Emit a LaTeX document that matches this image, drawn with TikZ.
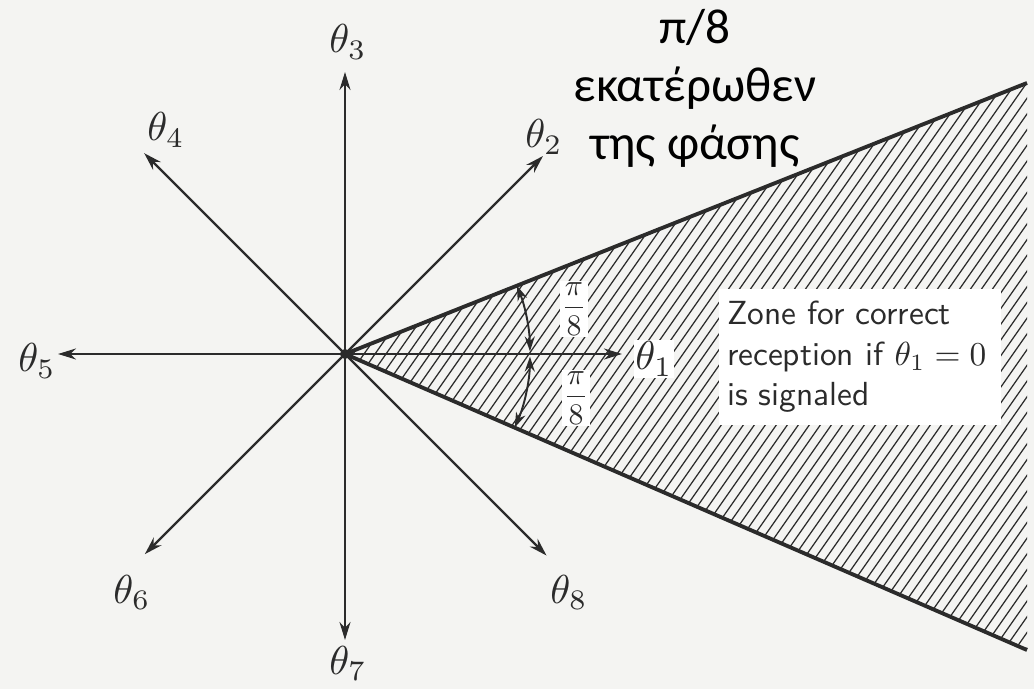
\documentclass[tikz,border=0pt]{standalone}
\usepackage{fontspec}
\usetikzlibrary{arrows.meta}
\newfontfamily\grfont{Carlito}
\definecolor{paper}{HTML}{F4F4F2}
\definecolor{ink}{HTML}{2B2B2B}
\tikzset{
    vec/.style={-{Stealth[length=3.6mm, width=2.2mm]}, line width=1.3pt, ink},
    wedgeline/.style={line width=2.2pt, ink},
    hatch/.style={line width=0.7pt, ink},
    dim/.style={{Stealth[length=3mm, width=2mm]}-{Stealth[length=3mm, width=2mm]}, line width=1.1pt, ink},
    lbl/.style={font=\normalsize, scale=2.3, transform shape, inner sep=0.4pt, text=ink},
    pifrac/.style={font=\normalsize, scale=1.7, transform shape, fill=white, inner sep=0.3pt, text=ink},
    zone/.style={fill=white, font=\fontsize{10}{12.1}\selectfont\sffamily, scale=1.9, transform shape,
                 align=left, text=ink, text width=2.8cm, inner xsep=0.08cm, inner ysep=0.13cm, minimum height=1.32cm},
    note/.style={font=\fontsize{28}{33}\selectfont\grfont, align=center},
}

\begin{document}
\begin{tikzpicture}[x=0.02cm, y=0.02cm]

\fill[paper] (-345,-335) rectangle (689,354);
\useasboundingbox (-345,-335) rectangle (689,354);

% Origin and phase tips
\coordinate (o) at (0,0);
\foreach \i/\a/\r in {1/0/277, 2/45/280, 3/90/282, 4/135/284, 5/180/287, 6/225/283, 7/270/286, 8/315/285}
    \coordinate (t\i) at (\a:\r);

% Wedge ends
\coordinate (wu) at (682,271);
\coordinate (wl) at (682,-296);

% ── Hatched zone ──
\begin{scope}
    \clip (o) -- (wu) -- (wl) -- cycle;
    \foreach \s in {-300,-289,...,1000}
        \draw[hatch] (\s-210,-300) -- (\s+210,300);
\end{scope}
\draw[wedgeline] (wu) -- (o) -- (wl);

\node[zone] (zone) at (515,-3) {Zone for correct\\reception if $\theta_1 = 0$\\is signaled};

% ── Phase vectors ──
\foreach \i in {1,...,8}
    \draw[vec] (o) -- (t\i);
\fill[ink] (o) circle[radius=0.1cm];

% Labels
\node[lbl, fill=white] (l1) at (309,-5) {$\theta_1$};
\node[lbl] (l2) at (199,217) {$\theta_2$};
\node[lbl] (l3) at (3,312) {$\theta_3$};
\node[lbl] (l4) at (-179,224) {$\theta_4$};
\node[lbl] (l5) at (-308,-7) {$\theta_5$};
\node[lbl] (l6) at (-213,-238) {$\theta_6$};
\node[lbl] (l7) at (3,-309) {$\theta_7$};
\node[lbl] (l8) at (224,-238) {$\theta_8$};

% ── Angle marks ──
\coordinate (au) at (21.7:185);
\coordinate (al) at (-0.8:185);
\draw[dim] (au) arc[start angle=21.7, end angle=0.8, radius=3.7cm];
\draw[dim] (al) arc[start angle=-0.8, end angle=-23.4, radius=3.7cm];
\node[pifrac] (pu) at (229,45) {$\displaystyle\frac{\pi}{8}$};
\node[pifrac] (pl) at (231,-44) {$\displaystyle\frac{\pi}{8}$};

\node[note] (gr) at (350,266) {π/8\\εκατέρωθεν\\της φάσης};

\end{tikzpicture}
\end{document}
